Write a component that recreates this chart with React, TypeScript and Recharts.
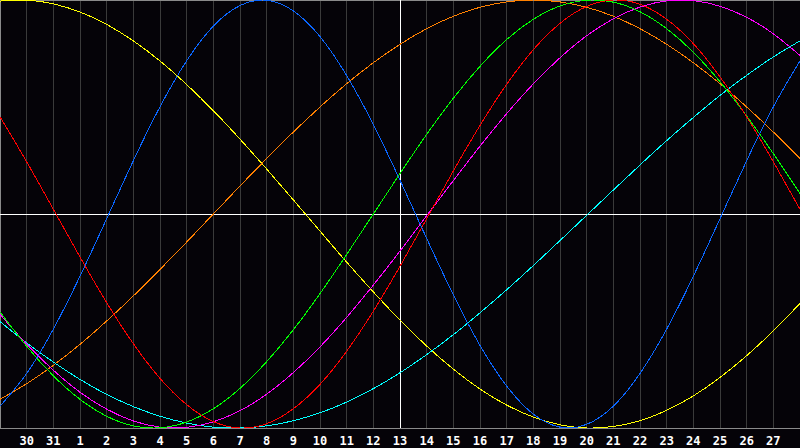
import { LineChart, Line, XAxis, YAxis, CartesianGrid, ReferenceLine } from "recharts";

// day labels under the grid lines (index 1..29)
const dayLabels = [
  "30", "31", "1", "2", "3", "4", "5", "6", "7", "8", "9", "10", "11", "12", "13",
  "14", "15", "16", "17", "18", "19", "20", "21", "22", "23", "24", "25", "26", "27",
];

// values, one per grid line from 0 to 30
const physical = [
  -89.8, -74.5, -53.8, -29.1, -2.2, 24.9, 50.1, 71.6, 87.8, 97.4, 99.9, 94.9, 82.9, 64.7, 41.8, 15.8,
  -11.4, -37.8, -61.4, -80.4, -93.5, -99.6, -98.3, -89.8, -74.5, -53.8, -29.1, -2.2, 24.9, 50.1, 71.6,
];
const emotional = [
  45.4, 24.4, 2.2, -20.1, -41.4, -60.6, -76.8, -89.1, -97.0, -100.0, -98.0, -91.0, -79.6, -64.1, -45.4, -24.4,
  -2.2, 20.1, 41.4, 60.6, 76.8, 89.1, 97.0, 100.0, 98.0, 91.0, 79.6, 64.1, 45.4, 24.4, 2.2,
];
const intellectual = [
  -45.8, -61.8, -75.6, -86.6, -94.5, -99.0, -99.9, -97.2, -91.0, -81.5, -69.0, -54.1, -37.2, -18.9, 0, 18.9,
  37.2, 54.1, 69.0, 81.5, 91.0, 97.2, 99.9, 99.0, 94.5, 86.6, 75.6, 61.8, 45.8, 28.2, 9.5,
];
const intuitive = [
  -46.9, -60.8, -73.0, -83.3, -91.2, -96.7, -99.6, -99.7, -97.1, -91.9, -84.2, -74.1, -62.1, -48.3, -33.2, -17.3,
  -0.8, 15.6, 31.7, 46.9, 60.8, 73.0, 83.3, 91.2, 96.7, 99.6, 99.7, 97.1, 91.9, 84.2, 74.1,
];
const aesthetic = [
  99.5, 99.9, 98.2, 94.4, 88.6, 80.9, 71.5, 60.5, 48.3, 35.0, 21.0, 6.6, -8.0, -22.5, -36.4, -49.6,
  -61.7, -72.5, -81.8, -89.3, -94.9, -98.5, -100.0, -99.3, -96.6, -91.7, -85.0, -76.4, -66.2, -54.6, -41.8,
];
const awareness = [
  -86.6, -79.3, -70.7, -60.9, -50.0, -38.3, -25.9, -13.1, 0, 13.1, 25.9, 38.3, 50.0, 60.9, 70.7, 79.3,
  86.6, 92.4, 96.6, 99.1, 100.0, 99.1, 96.6, 92.4, 86.6, 79.3, 70.7, 60.9, 50.0, 38.3, 25.9,
];
const spiritual = [
  -50.3, -60.2, -69.2, -77.3, -84.3, -90.0, -94.5, -97.7, -99.6, -100.0, -99.0, -96.6, -92.9, -87.9, -81.6, -74.2,
  -65.7, -56.4, -46.2, -35.4, -24.1, -12.4, -0.6, 11.2, 22.9, 34.3, 45.1, 55.4, 64.8, 73.4, 80.9,
];

const data = physical.map((_, i) => ({
  i,
  physical: physical[i],
  emotional: emotional[i],
  intellectual: intellectual[i],
  intuitive: intuitive[i],
  aesthetic: aesthetic[i],
  awareness: awareness[i],
  spiritual: spiritual[i],
}));

const series = [
  { key: "aesthetic", color: "#ffff00" },
  { key: "awareness", color: "#ff8000" },
  { key: "spiritual", color: "#00ffff" },
  { key: "intuitive", color: "#ff00ff" },
  { key: "intellectual", color: "#00ff00" },
  { key: "emotional", color: "#ff0000" },
  { key: "physical", color: "#0a66ff" },
];

const ticks = dayLabels.map((_, k) => k + 1);

export default function App() {
  return (
    <div style={{ position: "fixed", left: 0, top: 0, width: 800, height: 448, background: "#050308" }}>
      <LineChart width={800} height={448} data={data} margin={{ top: 0, right: 0, bottom: 0, left: 0 }}>
        <CartesianGrid horizontal={false} stroke="#3a3a3a" strokeWidth={1} shapeRendering="crispEdges" />
        <XAxis
          dataKey="i"
          type="number"
          domain={[0, 30]}
          ticks={ticks}
          tickFormatter={(v) => dayLabels[v - 1]}
          interval={0}
          height={20}
          tickLine={false}
          axisLine={{ stroke: "#8a8a8a", shapeRendering: "crispEdges" }}
          tick={{ fill: "#ffffff", fontFamily: "DejaVu Sans Mono", fontWeight: "bold", fontSize: 12 }}
        />
        <YAxis hide domain={[-100, 100]} />
        <ReferenceLine x={0} stroke="#8a8a8a" shapeRendering="crispEdges" />
        <ReferenceLine y={100} stroke="#8a8a8a" shapeRendering="crispEdges" />
        <ReferenceLine x={15} stroke="#ffffff" shapeRendering="crispEdges" />
        <ReferenceLine y={0} stroke="#ffffff" shapeRendering="crispEdges" />
        {series.map((s) => (
          <Line
            key={s.key}
            dataKey={s.key}
            type="natural"
            stroke={s.color}
            strokeWidth={1}
            dot={false}
            activeDot={false}
            isAnimationActive={false}
            shapeRendering="crispEdges"
          />
        ))}
      </LineChart>
    </div>
  );
}
